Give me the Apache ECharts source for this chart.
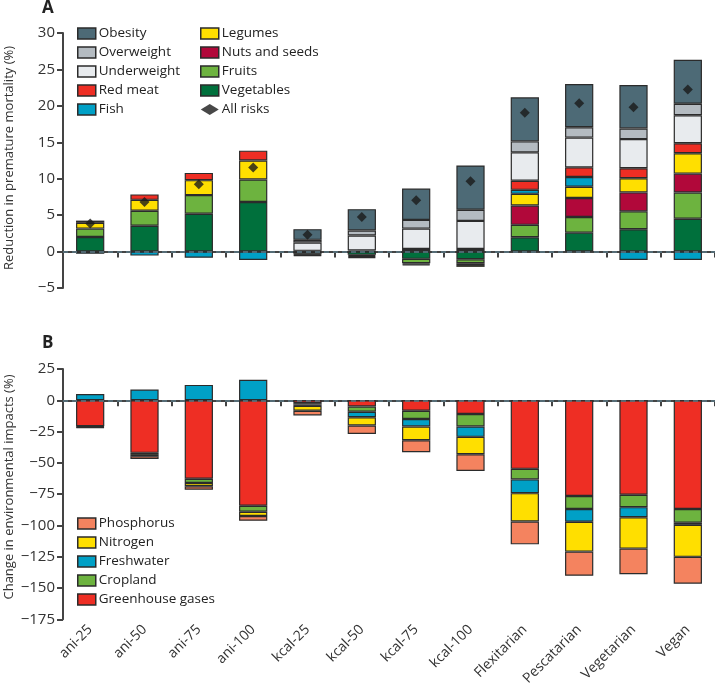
<!DOCTYPE html>
<html><head><meta charset="utf-8">
<script src="https://cdn.jsdelivr.net/npm/echarts@6/dist/echarts.min.js"></script>
<style>html,body{margin:0;padding:0;background:#fff}#c{width:715px;height:688px}</style>
</head><body><div id="c"></div>
<script>
// ---------- DATA ----------
const categories = ['ani-25','ani-50','ani-75','ani-100','kcal-25','kcal-50','kcal-75','kcal-100','Flexitarian','Pescatarian','Vegetarian','Vegan'];

// Panel A: reduction in premature mortality (%)
const vegetables = [2.0, 3.55, 5.2, 6.8, -0.3, -0.45, -1.0, -1.05, 1.97, 2.6, 3.07, 4.5];
const fruits     = [1.15, 2.05, 2.55, 3.1, -0.1, -0.15, -0.6, -0.55, 1.7, 2.15, 2.45, 3.6];
const nutsSeeds  = [0, 0, 0, 0, -0.1, -0.15, -0.15, -0.25, 2.65, 2.6, 2.6, 2.6];
const legumes    = [0.8, 1.5, 2.05, 2.6, -0.1, -0.15, -0.15, -0.25, 1.6, 1.55, 1.95, 2.8];
const fish       = [-0.3, -0.55, -0.85, -1.15, 0, 0, 0, 0, 0.55, 1.33, -1.15, -1.15];
const redMeat    = [0.3, 0.75, 1.0, 1.35, 0.1, 0.15, 0.35, 0.35, 1.25, 1.33, 1.37, 1.37];
const underweight= [0, 0, 0, 0, 1.14, 2.05, 2.8, 3.86, 3.9, 4.08, 4.0, 3.85];
const overweight = [0, 0, 0, 0, 0.37, 0.69, 1.2, 1.52, 1.5, 1.42, 1.46, 1.56];
const obesity    = [0, 0, 0, 0, 1.47, 2.93, 4.3, 6.09, 6.05, 5.95, 5.96, 6.05];
const allRisks   = [3.85, 6.8, 9.25, 11.55, 2.3, 4.75, 7.05, 9.65, 19.05, 20.35, 19.8, 22.25];

// Panel B: change in environmental impacts (%)
const greenhouse = [-20.7, -42, -62.7, -84.3, -2.3, -5, -8.4, -11, -54.8, -76.5, -75.5, -86.9];
const cropland   = [-0.5, -1.0, -3.4, -4.7, -1.1, -4.1, -6.5, -9.9, -8.4, -10.4, -9.9, -11.0];
const freshwater = [5.0, 8.6, 12.3, 16.4, -1.1, -4.5, -6.0, -8.3, -11.0, -10.2, -8.1, -1.6];
const nitrogen   = [-0.4, -1.8, -2.6, -3.4, -3.9, -6.5, -11.0, -13.9, -22.7, -23.8, -25.0, -25.6];
const phosphorus = [-0.4, -2.2, -2.8, -3.9, -3.7, -6.8, -9.6, -13.3, -18.2, -19.3, -20.4, -21.4];

const ticksA = [-5, 0, 5, 10, 15, 20, 25, 30];
const ticksB = [-175, -150, -125, -100, -75, -50, -25, 0, 25];

// ---------- CHART ----------
const FONT = 'Open Sans';
const BORDER = '#2b2b2b';
const clean = a => a.map(v => v === 0 ? null : v);
const fmt = v => v < 0 ? '\u2212' + Math.abs(v) : String(v);

function bar(name, data, color, gi, stack) {
  return {
    name, type: 'bar', stack, xAxisIndex: gi, yAxisIndex: gi,
    data: clean(data), barWidth: '52%',
    itemStyle: { color, borderColor: BORDER, borderWidth: 1.2 },
    emphasis: { disabled: true }
  };
}

const topDefs = [
  ['Vegetables', vegetables, '#00703c'],
  ['Fruits', fruits, '#6db33f'],
  ['Nuts and seeds', nutsSeeds, '#b1083a'],
  ['Legumes', legumes, '#ffdf00'],
  ['Fish', fish, '#00a0c6'],
  ['Red meat', redMeat, '#ee2e24'],
  ['Underweight', underweight, '#e8ebee'],
  ['Overweight', overweight, '#b4bbc1'],
  ['Obesity', obesity, '#4d6a76']
];
const botDefs = [
  ['Greenhouse gases', greenhouse, '#ee2e24'],
  ['Cropland', cropland, '#6db33f'],
  ['Freshwater', freshwater, '#00a0c6'],
  ['Nitrogen', nitrogen, '#ffdf00'],
  ['Phosphorus', phosphorus, '#f4835f']
];

const series = [];
topDefs.forEach(d => series.push(bar(d[0], d[1], d[2], 0, 'A')));
botDefs.forEach(d => series.push(bar(d[0], d[1], d[2], 1, 'B')));
const zeroLine = (gi) => ({
  type: 'line', xAxisIndex: gi, yAxisIndex: gi, data: [], silent: true, z: 1,
  markLine: { silent: true, symbol: 'none', label: { show: false },
    lineStyle: { type: [5, 4], color: '#5b7a86', width: 1.5 },
    data: [{ yAxis: 0 }] }
});
series.unshift(zeroLine(0), zeroLine(1));
series.push({
  name: 'All risks', type: 'scatter', xAxisIndex: 0, yAxisIndex: 0, z: 10,
  data: allRisks, symbol: 'diamond', symbolSize: 10,
  itemStyle: { color: '#1a1a1a' }
});

const axisLine = { show: true, lineStyle: { color: '#444', width: 2 } };
const axisTick = { show: true, length: 6, lineStyle: { color: '#444', width: 2 } };
const yLabel = { fontFamily: FONT, fontSize: 15, color: '#333', formatter: fmt, margin: 8 };

function yAx(gi, ticks, step) {
  return {
    type: 'value', gridIndex: gi, min: ticks[0], max: ticks[ticks.length - 1], interval: step,
    axisLine, axisTick, axisLabel: yLabel, splitLine: { show: false }
  };
}

function legendCol(names, left, top, icons) {
  return {
    orient: 'vertical', left, top, itemWidth: 18, itemHeight: 11, itemGap: 4,
    selectedMode: false, padding: 0,
    textStyle: { fontFamily: FONT, fontSize: 13.5, color: '#222', padding: [0, 0, 0, -2], lineHeight: 15 },
    itemStyle: { borderColor: BORDER, borderWidth: 1.5 },
    data: names.map(n => (icons && icons[n]) ? { name: n, icon: icons[n], itemStyle: { borderWidth: 0 } } : { name: n, icon: 'rect' })
  };
}

const axisName = (text, y) => ({
  type: 'text', x: 9, y, rotation: Math.PI / 2,
  style: { text, fontSize: 13, fontFamily: FONT, fill: '#333', align: 'center', verticalAlign: 'middle' }
});

const option = {
  animation: false,
  backgroundColor: '#fff',
  grid: [
    { left: 63, right: 0, top: 33, height: 255, containLabel: false },
    { left: 63, right: 0, top: 369, height: 256, containLabel: false }
  ],
  xAxis: [
    { type: 'category', gridIndex: 0, data: categories, axisLine, axisTick: Object.assign({}, axisTick, { interval: 0 }), axisLabel: { show: false } },
    { type: 'category', gridIndex: 1, data: categories, axisLine, axisTick: Object.assign({}, axisTick, { interval: 0 }),
      axisLabel: { interval: 0, rotate: 45, fontFamily: FONT, fontSize: 14, color: '#333', margin: 8 } }
  ],
  yAxis: [ yAx(0, ticksA, 5), yAx(1, ticksB, 25) ],
  legend: [
    legendCol(['Obesity', 'Overweight', 'Underweight', 'Red meat', 'Fish'], 77, 26),
    legendCol(['Legumes', 'Nuts and seeds', 'Fruits', 'Vegetables', 'All risks'], 200, 26, { 'All risks': 'diamond' }),
    legendCol(['Phosphorus', 'Nitrogen', 'Freshwater', 'Cropland', 'Greenhouse gases'], 77, 516)
  ],
  graphic: [
    { type: 'text', left: 42, top: 0, style: { text: 'A', fontSize: 17, fontWeight: 'bold', fontFamily: FONT, fill: '#222' } },
    { type: 'text', left: 42, top: 335, style: { text: 'B', fontSize: 17, fontWeight: 'bold', fontFamily: FONT, fill: '#222' } },
    axisName('Reduction in premature mortality (%)', 158),
    axisName('Change in environmental impacts (%)', 487)
  ],
  series
};

const chart = echarts.init(document.getElementById('c'), null, { renderer: 'canvas' });
chart.setOption(option);
</script>
</body></html>
